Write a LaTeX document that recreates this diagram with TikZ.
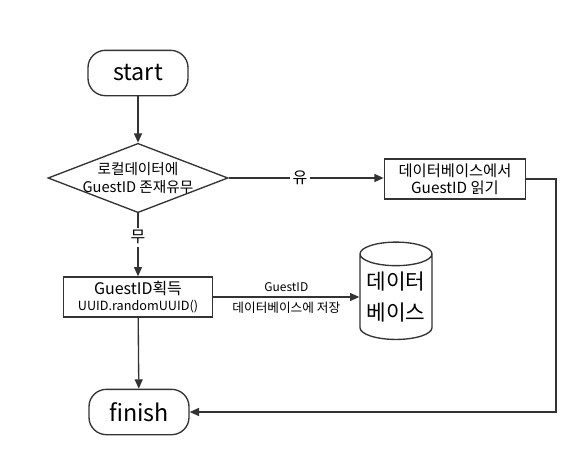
\documentclass[tikz,border=0pt]{standalone}
\usepackage{fontspec}
\setmainfont{Noto Sans CJK KR}
\usetikzlibrary{shapes.geometric,arrows.meta}
\definecolor{linegray}{HTML}{333333}

\begin{document}
\begin{tikzpicture}[x=0.75pt, y=-0.75pt, line width=1pt, draw=linegray,
  >={Triangle[length=7pt,width=6pt]},
  terminal/.style={draw, rounded corners=13pt, minimum width=75pt, minimum height=34pt,
    inner sep=0pt, font=\fontsize{17.5}{20}\selectfont},
  decision/.style={draw, diamond, aspect=2.6, minimum width=135pt, minimum height=52pt,
    inner sep=-3pt, align=center, font=\fontsize{11}{13}\selectfont},
  process/.style={draw, rectangle, inner sep=0pt, align=center},
  store/.style={draw, cylinder, shape border rotate=90, aspect=0.4, minimum width=54pt,
    minimum height=73pt, inner sep=0pt, align=center, font=\fontsize{16}{23}\selectfont},
  answer/.style={fill=white, inner sep=2pt, font=\fontsize{12}{14}\selectfont}]
\useasboundingbox (0,0) rectangle (586,471);

% nodes
\node [terminal] (start) at (138,73) {start};
\node [decision] (check) at (138,178) {로컬데이터에\\GuestID 존재유무};
\node [process, minimum width=106pt, minimum height=30pt,
  font=\fontsize{11.5}{13}\selectfont] (read) at (455,179) {데이터베이스에서\\GuestID 읽기};
\node [process, minimum width=112pt, minimum height=30pt] (make) at (138,297)
  {{\fontsize{12}{14}\selectfont GuestID획득}\\{\fontsize{9.5}{11}\selectfont UUID.randomUUID()}};
\node [store] (db) at (396,297) {데이터\\베이스};
\node [terminal] (finish) at (139,412) {finish};
\coordinate (turn) at (556,410);

% connectors
\draw [->] (start) -- (check);
\draw [->] (check.east) -- (check.east -| read.west);
\node [answer] (yes) at (300,178) {유};
\draw [->] (check) -- (make);
\node [answer] (no) at (138,237) {무};
\draw [->] (make.east) -- (make.east -| db.west)
  node [midway, above, font=\fontsize{9}{10}\selectfont] (idlabel) {GuestID}
  node [midway, below, font=\fontsize{9.5}{10}\selectfont] (savelabel) {데이터베이스에 저장};
\draw [->] (make) -- (finish);
\draw [->] (read.east) -- (read.east -| turn) |- (finish.east);
\end{tikzpicture}
\end{document}
